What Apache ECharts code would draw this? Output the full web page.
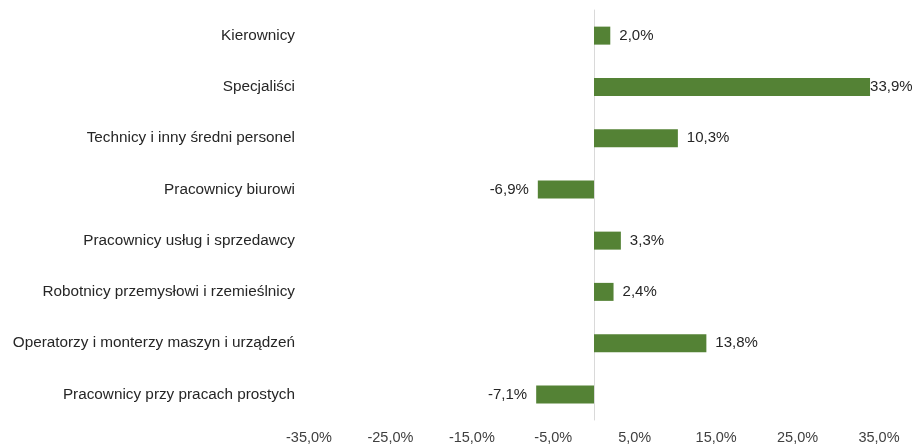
<!DOCTYPE html>
<html>
<head>
<meta charset="utf-8">
<script src="https://cdn.jsdelivr.net/npm/echarts@6/dist/echarts.min.js"></script>
<style>
  html, body { margin: 0; padding: 0; background: #fff; }
  #chart { width: 914px; height: 445px; }
</style>
</head>
<body>
<div id="chart"></div>
<script>
var categories = [
  "Kierownicy",
  "Specjaliści",
  "Technicy i inny średni personel",
  "Pracownicy biurowi",
  "Pracownicy usług i sprzedawcy",
  "Robotnicy przemysłowi i rzemieślnicy",
  "Operatorzy i monterzy maszyn i urządzeń",
  "Pracownicy przy pracach prostych"
];
var values = [2.0, 33.9, 10.3, -6.9, 3.3, 2.4, 13.8, -7.1];

function fmt(v) {
  return v.toFixed(1).replace(".", ",") + "%";
}

// negatives get the label on the left; the largest bar keeps it tight to the end
var maxVal = Math.max.apply(null, values);
var seriesData = values.map(function (v) {
  var item = { value: v };
  if (v < 0) item.label = { position: "left" };
  if (v === maxVal) item.label = { distance: 0 };
  return item;
});

var font = "Liberation Sans, Arial, sans-serif";
var myChart = echarts.init(document.getElementById("chart"));
var option = {
  animation: false,
  grid: { left: 309, right: 35, top: 10, bottom: 22, containLabel: false },
  xAxis: {
    type: "value",
    min: -35,
    max: 35,
    interval: 10,
    axisLine: { show: false },
    axisTick: { show: false },
    splitLine: { show: false },
    axisLabel: {
      formatter: function (v) { return fmt(v); },
      color: "#404040",
      fontFamily: font,
      fontSize: 14.5,
      margin: 10
    }
  },
  yAxis: {
    type: "category",
    data: categories,
    inverse: true,
    axisLine: { show: true, onZero: true, lineStyle: { color: "#d9d9d9", width: 1 } },
    axisTick: { show: false },
    axisLabel: {
      color: "#262626",
      fontFamily: font,
      fontSize: 15.3,
      margin: 14
    }
  },
  series: [
    {
      type: "bar",
      data: seriesData,
      barWidth: 18,
      itemStyle: { color: "#548235" },
      label: {
        show: true,
        position: "right",
        distance: 9,
        color: "#262626",
        fontFamily: font,
        fontSize: 15,
        formatter: function (p) { return fmt(p.value); }
      }
    }
  ]
};
myChart.setOption(option);
</script>
</body>
</html>
